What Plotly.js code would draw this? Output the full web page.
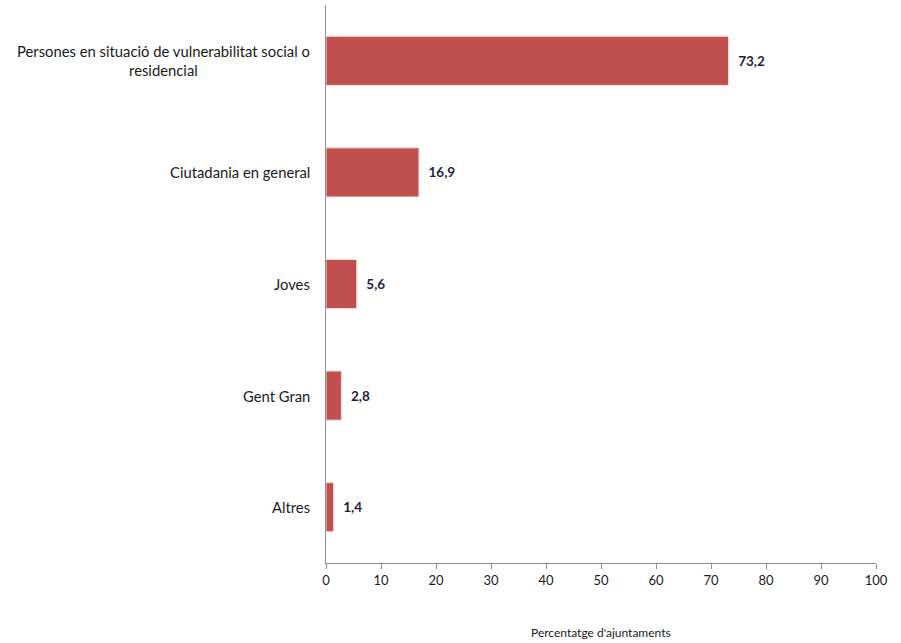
<!DOCTYPE html>
<html>
<head>
<meta charset="utf-8">
<script src="https://cdn.plot.ly/plotly-3.0.1.min.js"></script>
<style>html,body{margin:0;padding:0;background:#fff;}#chart{width:901px;height:643px;}</style>
</head>
<body>
<div id="chart"></div>
<script>
const categories = [
  "Persones en situació de vulnerabilitat social o<br>residencial",
  "Ciutadania en general",
  "Joves",
  "Gent Gran",
  "Altres"
];
const values = [73.2, 16.9, 5.6, 2.8, 1.4];
const xTicks = [0, 10, 20, 30, 40, 50, 60, 70, 80, 90, 100];
const xTitle = "Percentatge d'ajuntaments";

const FONT = "Lato, 'Open Sans', sans-serif";

const trace = {
  type: 'bar',
  orientation: 'h',
  x: values,
  y: categories.map((c, i) => i),
  width: 0.44,
  marker: {color: '#C0504D', line: {color: '#F2DCDB', width: 1}},
  text: values.map(v => v.toFixed(1).replace('.', ',')),
  texttemplate: '  %{text}',
  textposition: 'outside',
  cliponaxis: false,
  textfont: {family: FONT, size: 13.5, color: '#1F1F3A', weight: 'bold'},
  hoverinfo: 'none'
};

const annotations = categories.map((c, i) => ({
  xref: 'paper', yref: 'y',
  x: -0.025, y: i,
  xanchor: 'right', yanchor: 'middle',
  align: 'center',
  text: c,
  showarrow: false,
  font: {family: FONT, size: 14.8, color: '#1a1a1a'}
}));
annotations.push({
  xref: 'paper', yref: 'paper',
  x: 0.5, y: 0, yshift: -69,
  xanchor: 'center', yanchor: 'middle',
  text: xTitle, showarrow: false,
  font: {family: FONT, size: 12, color: '#1a1a1a'}
});

const layout = {
  width: 901, height: 643,
  margin: {l: 326, r: 25, t: 5, b: 80},
  paper_bgcolor: '#fff', plot_bgcolor: '#fff',
  showlegend: false,
  separators: ',.',
  xaxis: {
    range: [0, 100],
    tickvals: xTicks,
    ticktext: xTicks.map(String),
    showgrid: false, zeroline: false,
    showline: true, linecolor: '#8c8c8c', linewidth: 1,
    ticks: 'outside', ticklen: 5, tickcolor: '#8c8c8c',
    tickfont: {family: FONT, size: 13, color: '#1a1a1a'},
    fixedrange: true
  },
  yaxis: {
    range: [4.5, -0.5],
    showticklabels: false,
    showgrid: false, zeroline: false,
    showline: true, linecolor: '#8c8c8c', linewidth: 1,
    ticks: '',
    fixedrange: true
  },
  annotations: annotations
};

Plotly.newPlot('chart', [trace], layout, {staticPlot: true, displayModeBar: false});
</script>
</body>
</html>
